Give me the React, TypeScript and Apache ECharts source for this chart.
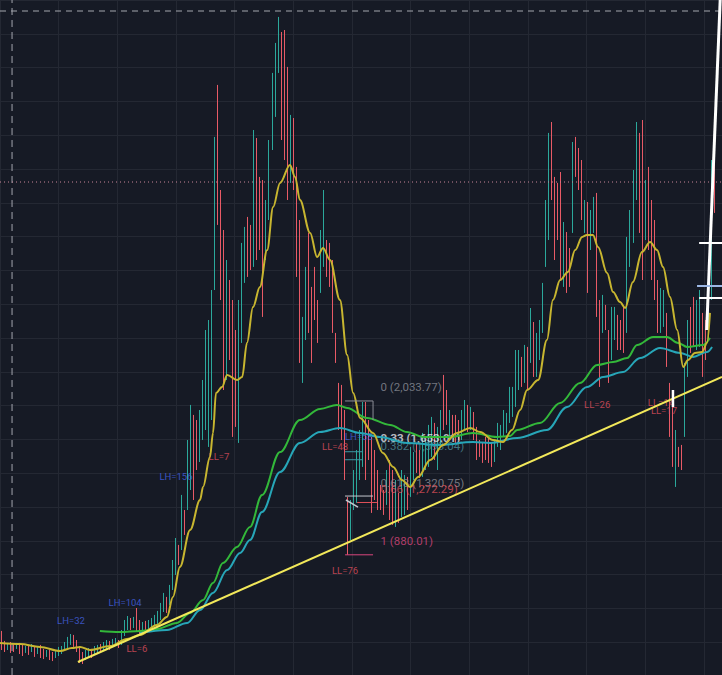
import { useEffect, useRef } from 'react';
import * as echarts from 'echarts';

// ---------- DATA ----------
const BAR_COUNT = 240;
const CATEGORIES = Array.from({ length: BAR_COUNT }, (_, i) => `${i}`);

// [open, close] per bar (price)
const CANDLES: [number, number][] = [
  [309,166],[234,151],[166,219],[226,144],[211,151],[174,219],[219,136],[204,121],[144,196],[204,129],
  [151,211],[196,114],[136,189],[204,106],[174,98],[114,166],[166,91],[151,83],[106,159],[121,189],
  [136,196],[159,226],[181,264],[204,286],[279,189],[241,151],[196,68],[151,61],[91,166],[114,181],
  [174,106],[129,196],[144,204],[211,144],[166,226],[174,241],[234,166],[189,249],[196,256],[241,181],
  [204,316],[271,391],[316,421],[406,316],[331,414],[481,301],[391,286],[294,376],[384,301],[316,391],
  [331,406],[346,429],[361,459],[391,519],[451,594],[564,444],[504,654],[616,841],[729,1006],[954,804],
  [916,1329],[1216,1029],[1216,1741],[1366,2004],[1929,1291],[1891,1516],[1576,1966],[1741,2191],[1816,2566],[1689,2641],
  [1891,2866],[2866,4014],[4404,3354],[3616,2791],[3316,2116],[2191,3091],[2941,2341],[2791,1764],[2566,1839],[1719,2791],
  [2469,3219],[2919,3339],[3414,2964],[3354,3016],[3039,4066],[4006,3091],[3714,3166],[3691,2664],[3091,3541],[3391,3991],
  [3916,4494],[4164,4719],[4494,4914],[4801,3991],[4816,3841],[4539,3541],[3669,4179],[4156,3616],[3789,2964],[3391,2319],
  [2169,2664],[2491,3039],[3294,2544],[2889,2319],[3039,2641],[2791,2469],[2844,3316],[3039,3616],[3241,2964],[3219,2889],
  [3091,2544],[2544,2319],[2169,1816],[2154,1741],[1966,1441],[1314,880],[991,1291],[1216,1516],[1269,1666],[1441,1816],
  [1539,2026],[2026,1441],[1891,1591],[1764,1194],[1666,1291],[1516,1216],[1404,1216],[1366,1179],[1254,1516],[1591,1141],
  [1516,1104],[1089,1441],[1344,1119],[1164,1516],[1179,1479],[1464,1216],[1314,1689],[1441,1651],[1719,1494],[1666,1456],
  [1464,1794],[1516,1741],[1539,1854],[1614,1914],[1869,1591],[1516,1839],[1689,1966],[2229,1816],[2116,1854],[1741,1966],
  [1929,1756],[1929,1719],[1891,1741],[1741,1966],[1816,2041],[2004,1801],[1816,1989],[1951,1741],[1839,1591],[1741,1614],
  [1719,1569],[1764,1591],[1764,1569],[1719,1539],[1576,1741],[1689,1869],[1666,1854],[1764,1966],[1794,1944],[1869,2139],
  [1914,2139],[1989,2416],[2116,2416],[2364,2139],[2169,2454],[2439,2116],[2319,2731],[2626,2214],[2214,2544],[2341,2641],
  [2544,2919],[3039,3541],[3241,4044],[4126,3541],[3714,3091],[3669,3241],[3751,2941],[2889,3376],[3301,2844],[3181,2889],
  [3294,3976],[4014,3714],[3931,3616],[3841,3391],[3294,3541],[3526,2844],[3166,3466],[3294,3564],[3594,2664],[2791,2139],
  [2544,2829],[2754,2566],[2566,2169],[2341,2739],[2491,2739],[2679,2416],[2641,2416],[2739,2394],[2544,3264],[3039,3466],
  [3219,3766],[3541,4126],[4044,3294],[4141,2941],[3241,3691],[3789,3166],[3541,2941],[3391,2791],[2941,2544],[2544,2881],
  [2589,2866],[2694,2289],[2169,1764],[1989,1539],[1389,1816],[1689,1539],[1704,1516],[1764,2319],[2214,2641],[2739,2394],
  [2814,2439],[2416,2791],[2439,2866],[2694,2214],[2641,2341],[2491,2866],[2791,3841],[3879,3444],
];

// moving averages: [bar, price]
const MA_FAST: [number, number][] = [
  [-0.5,219],[6.2,211],[12.8,189],[19.5,159],[23.4,181],[26.1,189],[29.4,166],[36.1,196],[41.7,249],[46,279],
  [51.7,354],[55,414],[57,564],[59.3,789],[62.7,1066],[66,1291],[67,1389],[69.3,1614],[70.3,1794],[71.3,2094],
  [73.3,2139],[75,2229],[78.3,2191],[80,2214],[81.6,2469],[83.6,2739],[85.9,2889],[88.3,3166],[90.3,3489],[92.6,3669],
  [95.9,3804],[97.6,3714],[99.2,3541],[102.6,3294],[104.9,3114],[106.9,3181],[109.2,3091],[112.5,2791],[114.9,2379],[116.9,2094],
  [119.2,1906],[123.5,1794],[126.8,1644],[130.2,1539],[133.1,1441],[135.8,1389],[138.5,1464],[142.5,1591],[146.8,1704],[151.4,1794],
  [155.8,1831],[159.1,1801],[163.4,1741],[166.7,1726],[169.7,1816],[172.4,1966],[174.7,2116],[178.4,2191],[181.3,2491],[183.3,2791],
  [185.7,2941],[188.3,3001],[190.7,3166],[193,3264],[194.6,3279],[196.6,3279],[198.3,3189],[201.3,2994],[203.3,2851],[205.6,2776],
  [207.3,2731],[209.9,2926],[212.9,3151],[215.6,3226],[217.9,3166],[219.9,3039],[222.2,2814],[224.6,2566],[226.6,2289],[228.2,2341],
  [230.5,2394],[232.9,2401],[234.5,2469],[235.5,2694],
];
const MA_MID: [number, number][] = [
  [32.7,309],[39.4,301],[46,309],[51.7,324],[58.3,369],[62.7,444],[67,541],[70.3,669],[73.6,819],[78.3,939],
  [82.6,1089],[86.6,1329],[92.6,1651],[99.2,1891],[105.9,1974],[111.5,2004],[114.9,1981],[121.5,1906],[129.2,1854],[134.8,1801],
  [140.1,1764],[149.1,1764],[156.7,1794],[164.7,1764],[169,1771],[171.4,1816],[179,1869],[185.7,2019],[192.3,2169],[198,2304],
  [203.3,2326],[208,2356],[211.3,2454],[216.6,2514],[221.2,2514],[224.9,2469],[227.9,2439],[233.2,2454],[235.5,2506],
];
const MA_SLOW: [number, number][] = [
  [46,294],[55,316],[61.7,369],[66,466],[70.3,594],[75,766],[79.3,894],[82.6,991],[86.6,1201],[92.6,1501],
  [99.2,1719],[105.9,1801],[112.5,1831],[119.2,1794],[125.8,1764],[134.8,1719],[145.8,1704],[156.7,1726],[162.4,1719],[171.4,1756],
  [181.3,1816],[188,1989],[194.6,2139],[200,2214],[206.6,2251],[212.3,2356],[218.9,2431],[225.6,2394],[229.9,2364],[234.5,2401],
  [236.2,2439],
];
const TREND_LINE: [number, number][] = [[25.4, 76], [239.5, 2214]];

// Fibonacci retracement
const FIB_RATIO = ['0', '0.33', '0.382', '0.618', '0.66', '1'];
const FIB_PRICE = [2033.77, 1653.01, 1593.04, 1320.75, 1272.29, 880.01];
const FIB_FROM_BAR = [114.2, 114.2, 114.2, 114.2, 118.2, 114.2];
const FIB_TO_BAR = [123.5, 120.2, 120.2, 123.5, 124.8, 123.5];
const FIB_LABEL_BAR = 125.8;
const FIB_STEM: [number, number][] = [[123.5, 2033.77], [123.5, 1891]];
const FIB_TICK: [number, number][] = [[114.5, 1291], [118.5, 1238]];

// pivot labels
const PIVOT_TEXT = ['LH=32', 'LH=104', 'LL=6', 'LL=59', 'LH=156', 'LL=7', 'LL=48', 'LH=58', 'LL=76', 'LL=26', 'LL=14', 'LL=17'];
const PIVOT_BAR = [23.1, 41.1, 45.0, 26.4, 58.0, 72.3, 110.9, 118.8, 114.2, 198.0, 219.2, 220.2];
const PIVOT_PRICE = [391, 519, 181, -44, 1464, 1621, 1689, 1771, 759, 2004, 2019, 1966];

// other drawings
const CROSSHAIR_BAR = 3.5;
const CROSSHAIR_PRICE = 4958.5;
const ALERT_PRICE = 3676;
const WHITE_RAY: [number, number][] = [[234.4, 2566], [238.9, 5041]];
const WHITE_LEVELS = [3218.5, 2806];
const BLUE_LEVEL = 2896;
const LEVELS_FROM_BAR = 231.9;
const WHITE_TICK: [number, number][] = [[223.2, 2116], [223.2, 1988]];

const PRICE_MIN = -21.5;
const PRICE_MAX = 5041;

// ---------- STYLE ----------
const BG = '#161a25';
const GRID = '#242833';
const UP = '#2ba89b';
const DOWN = '#e85a66';
const FIB_LINE_COLOR = ['#8b8e97', '#3c9aa5', '#3c9aa5', '#c4c7ce', '#e0505a', '#d9467c'];
const FIB_TEXT_COLOR = ['#8b8e97', '#e3e5ea', '#4f8e99', '#8b8e97', '#e0505a', '#d9467c'];
const FIB_TEXT_WEIGHT = ['normal', 'bold', 'normal', 'normal', 'normal', 'normal'];
const LH_COLOR = '#4463e6';
const LL_COLOR = '#e0505e';

const fmt = (p: number) => {
  const [a, b] = p.toFixed(2).split('.');
  return a.replace(/\B(?=(\d{3})+(?!\d))/g, ',') + '.' + b;
};

const line = (data: any[], color: string, width: number, extra: any = {}) => ({
  type: 'line',
  xAxisIndex: 1,
  yAxisIndex: 0,
  data,
  symbol: 'none',
  showSymbol: false,
  silent: true,
  lineStyle: { color, width, ...(extra.lineStyle || {}) },
  ...(extra.smooth ? { smooth: extra.smooth, smoothMonotone: 'x' } : {}),
});

export default function App() {
  const ref = useRef<HTMLDivElement>(null);
  useEffect(() => {
    const chart = echarts.init(ref.current!, undefined, { renderer: 'svg' });
    const hidden = { axisLine: { show: false }, axisTick: { show: false }, axisLabel: { show: false } };
    const series: any[] = [
      { type: 'scatter', xAxisIndex: 2, yAxisIndex: 1, data: [], silent: true },
      line([[-0.5, CROSSHAIR_PRICE], [239.5, CROSSHAIR_PRICE]], '#a3a6ae', 1, { lineStyle: { type: [6, 5] } }),
      line([[CROSSHAIR_BAR, PRICE_MIN], [CROSSHAIR_BAR, PRICE_MAX]], '#a3a6ae', 1, { lineStyle: { type: [7, 5] } }),
      line([[-0.5, ALERT_PRICE], [239.5, ALERT_PRICE]], '#c9869a', 1, { lineStyle: { type: [1, 3] } }),
      {
        type: 'candlestick',
        xAxisIndex: 0,
        yAxisIndex: 0,
        silent: true,
        barWidth: 1.3,
        data: CANDLES.map(([o, c]) => [o, c, Math.min(o, c), Math.max(o, c)]),
        itemStyle: { color: UP, color0: DOWN, borderColor: UP, borderColor0: DOWN, borderWidth: 1 },
      },
      line(MA_SLOW, '#27a6b8', 2, { smooth: 0.35 }),
      line(MA_MID, '#33b83a', 2, { smooth: 0.35 }),
      line(MA_FAST, '#c8b630', 2, { smooth: 0.35 }),
      line(TREND_LINE, '#f2e85a', 2),
      ...FIB_PRICE.map((p, i) => line([[FIB_FROM_BAR[i], p], [FIB_TO_BAR[i], p]], FIB_LINE_COLOR[i], 1)),
      line(FIB_STEM, '#8b8e97', 1),
      line(FIB_TICK, '#c4c7ce', 1.5),
      line(WHITE_RAY, '#ffffff', 3),
      ...WHITE_LEVELS.map((p) => line([[LEVELS_FROM_BAR, p], [239.5, p]], '#ffffff', 2)),
      line([[LEVELS_FROM_BAR - 0.7, BLUE_LEVEL], [239.5, BLUE_LEVEL]], '#9db8e6', 2),
      line(WHITE_TICK, '#ffffff', 2.5),
      {
        type: 'scatter',
        xAxisIndex: 1,
        yAxisIndex: 0,
        silent: true,
        clip: false,
        symbolSize: 1,
        itemStyle: { color: 'rgba(0,0,0,0)' },
        data: FIB_PRICE.map((p, i) => ({
          value: [FIB_LABEL_BAR, p],
          name: `${FIB_RATIO[i]} (${fmt(p)})`,
          label: { color: FIB_TEXT_COLOR[i], fontWeight: FIB_TEXT_WEIGHT[i] },
        })),
        label: {
          show: true,
          position: 'right',
          distance: 0,
          offset: [0, -13.5],
          formatter: '{b}',
          fontSize: 11.5,
          fontFamily: 'Roboto, sans-serif',
        },
      },
      {
        type: 'scatter',
        xAxisIndex: 1,
        yAxisIndex: 0,
        silent: true,
        clip: false,
        symbolSize: 1,
        itemStyle: { color: 'rgba(0,0,0,0)' },
        data: PIVOT_TEXT.map((t, i) => ({
          value: [PIVOT_BAR[i], PIVOT_PRICE[i]],
          name: t,
          label: { color: t.startsWith('LH') ? LH_COLOR : LL_COLOR },
        })),
        label: {
          show: true,
          position: 'inside',
          formatter: '{b}',
          fontSize: 9.5,
          fontFamily: 'Roboto, sans-serif',
        },
      },
    ];
    chart.setOption({
      animation: false,
      backgroundColor: BG,
      grid: { left: 0, right: 0, top: 0, bottom: 0 },
      xAxis: [
        { type: 'category', data: CATEGORIES, show: false },
        { type: 'value', min: -0.5, max: BAR_COUNT - 0.5, show: false },
        {
          type: 'value', min: 0, max: 722, interval: 58.66, ...hidden,
          splitLine: { show: true, lineStyle: { color: GRID, width: 1 } },
        },
      ],
      yAxis: [
        { type: 'value', min: PRICE_MIN, max: PRICE_MAX, show: false },
        {
          type: 'value', min: 0, max: 675, interval: 33.8, inverse: true, ...hidden,
          splitLine: { show: true, lineStyle: { color: GRID, width: 1 } },
        },
      ],
      series,
    });
    return () => chart.dispose();
  }, []);
  return <div ref={ref} style={{ position: 'fixed', left: 0, top: 0, width: 722, height: 675 }} />;
}
